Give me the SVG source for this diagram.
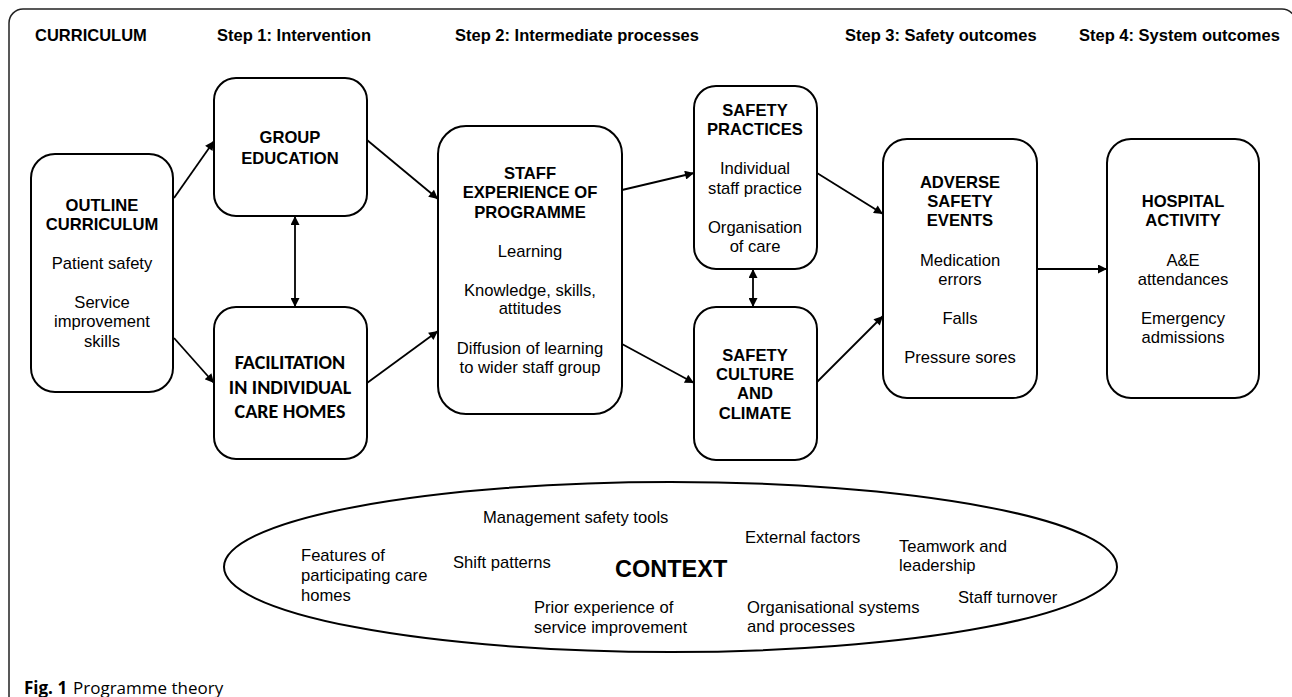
<svg xmlns="http://www.w3.org/2000/svg" width="1292" height="697" viewBox="0 0 1292 697">
<style>
text{font-family:"Liberation Sans",Arial,sans-serif;font-size:16.6px;fill:#000}
.h{font-weight:bold;font-size:16.5px}
.b{font-weight:bold;text-anchor:middle}
.r{text-anchor:middle}
.c{font-family:Carlito,Lato,sans-serif;font-weight:bold;font-size:20px;text-anchor:middle}
.cap{font-family:"Open Sans","Noto Sans",sans-serif;font-size:17px}
.box{fill:#fff;stroke:#000;stroke-width:2}
.con line{stroke:#000;stroke-width:1.8;marker-end:url(#ah)}
.con line.dbl{marker-start:url(#ah)}
</style>
<defs>
<marker id="ah" viewBox="0 0 10 10" refX="10" refY="5" markerWidth="11" markerHeight="9" markerUnits="userSpaceOnUse" orient="auto-start-reverse"><path d="M0,0 L10,5 L0,10 z" fill="#000"/></marker>
</defs>
<rect x="0" y="0" width="1292" height="697" fill="#fff"/>
<rect x="9" y="9" width="1287" height="730" rx="14" fill="none" stroke="#222" stroke-width="1.5"/>
<g id="headers">
<text class="h" x="35" y="41">CURRICULUM</text>
<text class="h" x="217" y="41">Step 1: Intervention</text>
<text class="h" x="455" y="41">Step 2: Intermediate processes</text>
<text class="h" x="845" y="41">Step 3: Safety outcomes</text>
<text class="h" x="1079" y="41">Step 4: System outcomes</text>
</g>
<g class="con" id="connectors">
<line x1="174" y1="198" x2="214" y2="141"/>
<line x1="174" y1="338" x2="214" y2="383"/>
<line class="dbl" x1="295" y1="216" x2="295" y2="307"/>
<line x1="367" y1="140" x2="438" y2="199"/>
<line x1="367" y1="383" x2="438" y2="331"/>
<line x1="622" y1="190" x2="694" y2="173"/>
<line x1="622" y1="344" x2="694" y2="383"/>
<line class="dbl" x1="753" y1="269" x2="753" y2="307"/>
<line x1="817" y1="173" x2="883" y2="214"/>
<line x1="817" y1="382" x2="883" y2="316"/>
<line x1="1037" y1="269" x2="1107" y2="269"/>
</g>
<g id="outline">
<rect class="box" x="31" y="154" width="142" height="238" rx="24"/>
<text class="b" x="102" y="211">OUTLINE</text>
<text class="b" x="102" y="230">CURRICULUM</text>
<text class="r" x="102" y="269">Patient safety</text>
<text class="r" x="102" y="308">Service</text>
<text class="r" x="102" y="327">improvement</text>
<text class="r" x="102" y="347">skills</text>
</g>
<g id="group">
<rect class="box" x="214" y="78" width="153" height="138" rx="22"/>
<text class="b" x="290" y="143">GROUP</text>
<text class="b" x="290" y="164">EDUCATION</text>
</g>
<g id="facilitation">
<rect class="box" x="214" y="307" width="153" height="152" rx="22"/>
<text class="c" x="290" y="369">FACILITATION</text>
<text class="c" x="290" y="394">IN INDIVIDUAL</text>
<text class="c" x="290" y="418">CARE HOMES</text>
</g>
<g id="staff">
<rect class="box" x="438" y="126" width="184" height="288" rx="28"/>
<text class="b" x="530" y="179">STAFF</text>
<text class="b" x="530" y="198">EXPERIENCE OF</text>
<text class="b" x="530" y="218">PROGRAMME</text>
<text class="r" x="530" y="257">Learning</text>
<text class="r" x="530" y="296">Knowledge, skills,</text>
<text class="r" x="530" y="314">attitudes</text>
<text class="r" x="530" y="354">Diffusion of learning</text>
<text class="r" x="530" y="373">to wider staff group</text>
</g>
<g id="practices">
<rect class="box" x="694" y="86" width="123" height="183" rx="22"/>
<text class="b" x="755" y="116">SAFETY</text>
<text class="b" x="755" y="135">PRACTICES</text>
<text class="r" x="755" y="174">Individual</text>
<text class="r" x="755" y="194">staff practice</text>
<text class="r" x="755" y="233">Organisation</text>
<text class="r" x="755" y="252">of care</text>
</g>
<g id="culture">
<rect class="box" x="694" y="307" width="123" height="153" rx="22"/>
<text class="b" x="755" y="361">SAFETY</text>
<text class="b" x="755" y="380">CULTURE</text>
<text class="b" x="755" y="399">AND</text>
<text class="b" x="755" y="419">CLIMATE</text>
</g>
<g id="adverse">
<rect class="box" x="883" y="139" width="154" height="259" rx="24"/>
<text class="b" x="960" y="188">ADVERSE</text>
<text class="b" x="960" y="207">SAFETY</text>
<text class="b" x="960" y="226">EVENTS</text>
<text class="r" x="960" y="266">Medication</text>
<text class="r" x="960" y="285">errors</text>
<text class="r" x="960" y="324">Falls</text>
<text class="r" x="960" y="363">Pressure sores</text>
</g>
<g id="hospital">
<rect class="box" x="1107" y="139" width="152" height="259" rx="24"/>
<text class="b" x="1183" y="207">HOSPITAL</text>
<text class="b" x="1183" y="226">ACTIVITY</text>
<text class="r" x="1183" y="266">A&amp;E</text>
<text class="r" x="1183" y="285">attendances</text>
<text class="r" x="1183" y="324">Emergency</text>
<text class="r" x="1183" y="343">admissions</text>
</g>
<g id="context">
<ellipse cx="670.5" cy="567" rx="446.5" ry="85" fill="none" stroke="#000" stroke-width="2"/>
<text x="483" y="523">Management safety tools</text>
<text x="745" y="543">External factors</text>
<text x="899" y="552">Teamwork and</text>
<text x="899" y="571">leadership</text>
<text x="301" y="561">Features of</text>
<text x="301" y="581">participating care</text>
<text x="301" y="601">homes</text>
<text x="453" y="568">Shift patterns</text>
<text x="615" y="577" style="font-weight:bold;font-size:23.5px">CONTEXT</text>
<text x="534" y="613">Prior experience of</text>
<text x="534" y="633">service improvement</text>
<text x="747" y="613">Organisational systems</text>
<text x="747" y="632">and processes</text>
<text x="958" y="603">Staff turnover</text>
</g>
<g id="caption">
<text class="cap" x="24" y="694" style="font-weight:bold">Fig. 1</text>
<text class="cap" x="73" y="694">Programme theory</text>
</g>
</svg>
